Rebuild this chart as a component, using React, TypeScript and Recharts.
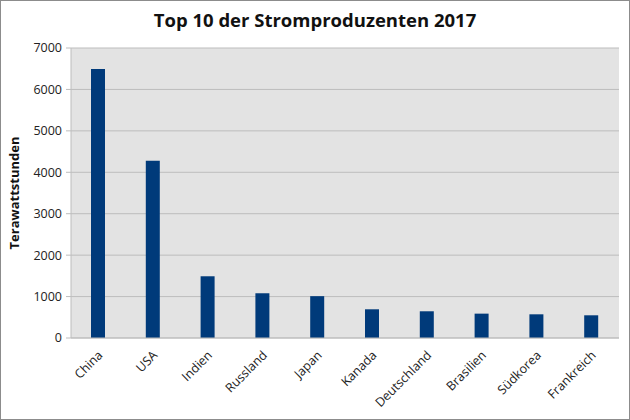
import React from 'react';
import { BarChart, Bar, XAxis, YAxis, CartesianGrid } from 'recharts';

const countries = ['China', 'USA', 'Indien', 'Russland', 'Japan', 'Kanada', 'Deutschland', 'Brasilien', 'Südkorea', 'Frankreich'];
const production = [6495, 4280, 1490, 1080, 1010, 693, 645, 588, 572, 548];
const yTicks = [0, 1000, 2000, 3000, 4000, 5000, 6000, 7000];

const data = countries.map((c, i) => ({ name: c, value: production[i] }));

const FONT = '"Open Sans", "Liberation Sans", sans-serif';

const XTick = (props: any) => {
  const { x, y, payload } = props;
  return (
    <text
      x={x + 5}
      y={y + 10}
      textAnchor="end"
      fontFamily={FONT}
      fontSize={12.5}
      fill="#222"
      transform={`rotate(-45, ${x + 5}, ${y + 10})`}
    >
      {payload.value}
    </text>
  );
};

export default function App() {
  return (
    <div style={{ position: 'absolute', left: 0, top: 0, width: 630, height: 420, background: '#fff' }}>
      <div
        style={{
          position: 'absolute',
          left: 0,
          top: 0,
          width: 628,
          height: 418,
          border: '1px solid #8c8c8c',
          pointerEvents: 'none',
        }}
      />
      <div
        style={{
          position: 'absolute',
          left: 0,
          top: 7,
          width: 630,
          textAlign: 'center',
          fontFamily: FONT,
          fontWeight: 700,
          fontSize: 18.5,
          color: '#111',
        }}
      >
        Top 10 der Stromproduzenten 2017
      </div>
      <BarChart
        width={630}
        height={420}
        data={data}
        margin={{ top: 48, right: 11, left: 0, bottom: 0 }}
      >
        <CartesianGrid vertical={false} stroke="#bdbdbd" fill="#e3e3e3" />
        <XAxis
          dataKey="name"
          tick={<XTick />}
          tickLine={false}
          axisLine={{ stroke: '#bdbdbd' }}
          interval={0}
          height={82}
        />
        <YAxis
          width={71}
          domain={[0, 7000]}
          ticks={yTicks}
          interval={0}
          tick={{ fontFamily: FONT, fontSize: 12.5, fill: '#222' }}
          tickLine={{ stroke: '#bdbdbd' }}
          tickSize={5}
          tickMargin={4}
          axisLine={{ stroke: '#bdbdbd' }}
          label={{
            value: 'Terawattstunden',
            angle: -90,
            position: 'insideLeft',
            offset: 14,
            style: { fontFamily: FONT, fontWeight: 700, fontSize: 13, fill: '#111', textAnchor: 'middle' },
          }}
        />
        <Bar dataKey="value" fill="#003a7a" barSize={14} isAnimationActive={false} />
      </BarChart>
    </div>
  );
}
